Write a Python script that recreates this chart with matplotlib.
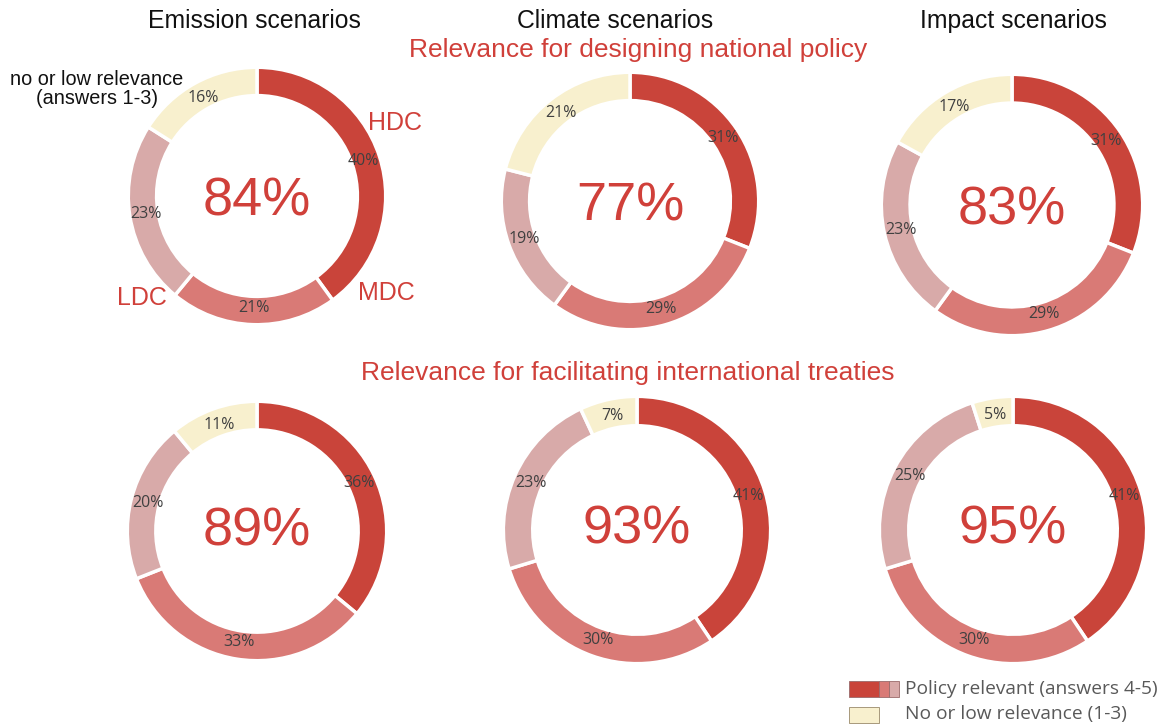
import matplotlib
matplotlib.use("Agg")
import matplotlib.pyplot as plt
from matplotlib.patches import Rectangle

W, H = 1166, 727

segments = ["HDC", "MDC", "LDC", "low"]
colors = ["#C9443A", "#D97A76", "#D8AAA9", "#F8F0CE"]

scenarios = ["Emission scenarios", "Climate scenarios", "Impact scenarios"]
national_policy = [[40, 21, 23, 16], [31, 29, 19, 21], [31, 29, 23, 17]]
international_treaties = [[36, 33, 20, 11], [41, 30, 23, 7], [41, 30, 25, 5]]
national_total = ["84%", "77%", "83%"]
international_total = ["89%", "93%", "95%"]

red = "#D0403A"

fig = plt.figure(figsize=(W / 100, H / 100), dpi=100)

# overlay axes in pixel coords for text and legend
ov = fig.add_axes([0, 0, 1, 1])
ov.set_xlim(0, W)
ov.set_ylim(H, 0)
ov.axis("off")


def donut(cx, cy, r, vals, total, dy):
    ax = fig.add_axes([(cx - r) / W, 1 - (cy + r) / H, 2 * r / W, 2 * r / H])
    wedges, texts = ax.pie(vals, colors=colors, startangle=90, counterclock=False,
                           radius=1.0,
                           wedgeprops=dict(width=0.22, edgecolor="white", linewidth=2.5),
                           labels=[f"{v}%" for v in vals], labeldistance=0.87,
                           textprops=dict(fontsize=11.5, color="#404040",
                                          family="Open Sans", fontweight="medium"))
    for t in texts:
        t.set_ha("center")
        t.set_va("center")
    ax.set_xlim(-1.01, 1.01)
    ax.set_ylim(-1.01, 1.01)
    ax.set_aspect("equal")
    ax.axis("off")
    ax.text(0, dy, total, ha="center", va="center", fontsize=39,
            color=red, family="Liberation Sans")
    return ax


top_pos = [(257, 196, 130), (630, 201, 130), (1012, 205, 132)]
bot_pos = [(257, 531, 131), (637, 530, 135), (1013, 530, 135)]

for (cx, cy, r), vals, tot in zip(top_pos, national_policy, national_total):
    donut(cx, cy, r, vals, tot, -0.04)
for (cx, cy, r), vals, tot in zip(bot_pos, international_treaties, international_total):
    donut(cx, cy, r, vals, tot, 0.0)

# titles
for x, t in zip([254, 615, 1013], scenarios):
    ov.text(x, 21, t, ha="center", va="center", fontsize=17.8,
            color="#111111", family="Liberation Sans")
ov.text(638, 50, "Relevance for designing national policy", ha="center",
        va="center", fontsize=19, color=red, family="Liberation Sans")
ov.text(628, 373, "Relevance for facilitating international treaties",
        ha="center", va="center", fontsize=19, color=red, family="Liberation Sans")

# group annotations
ov.text(395, 123, "HDC", ha="center", va="center", fontsize=18, color=red,
        family="Liberation Sans")
ov.text(386, 293, "MDC", ha="center", va="center", fontsize=18, color=red,
        family="Liberation Sans")
ov.text(142, 298, "LDC", ha="center", va="center", fontsize=18, color=red,
        family="Liberation Sans")
ov.text(97, 89, "no or low relevance\n(answers 1-3)", ha="center", va="center",
        fontsize=14.3, color="#111111", family="Liberation Sans", linespacing=1.0)

# legend
ov.add_patch(Rectangle((849, 681), 30, 16, facecolor=colors[0], edgecolor="#9a6a6a", lw=0.6))
ov.add_patch(Rectangle((879, 681), 10, 16, facecolor=colors[1], edgecolor="#9a6a6a", lw=0.6))
ov.add_patch(Rectangle((889, 681), 10, 16, facecolor=colors[2], edgecolor="#9a6a6a", lw=0.6))
ov.add_patch(Rectangle((849, 707), 30, 16, facecolor=colors[3], edgecolor="#9a8a6a", lw=0.6))
ov.text(905, 689, "Policy relevant (answers 4-5)", ha="left", va="center",
        fontsize=13.8, color="#595959", family="Open Sans")
ov.text(905, 714, "No or low relevance (1-3)", ha="left", va="center",
        fontsize=13.8, color="#595959", family="Open Sans")

fig.savefig("out.png", dpi=100)
